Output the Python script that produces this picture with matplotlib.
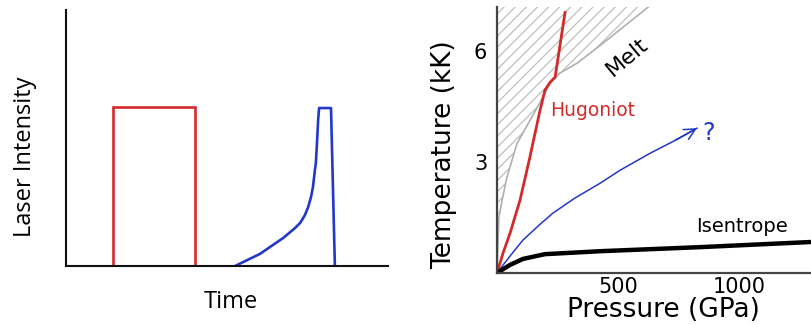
import numpy as np
import matplotlib
matplotlib.use("Agg")
import matplotlib.pyplot as plt

plt.rcParams.update({'font.family': 'DejaVu Sans'})
plt.rcParams['hatch.linewidth'] = 0.8

# left panel: laser pulse shapes (arbitrary units)
square_t = [1.46, 1.46, 4.01, 4.01]
square_i = [0.0, 6.2, 6.2, 0.0]
ramp_t = [5.25, 6.02, 6.74, 7.11, 7.27, 7.42, 7.52, 7.61, 7.67, 7.73, 7.76,
          7.80, 7.83, 7.86, 8.23, 8.35]
ramp_i = [0.0, 0.47, 1.09, 1.48, 1.68, 1.99, 2.30, 2.70, 3.09, 3.75, 4.02,
          4.92, 5.70, 6.17, 6.17, 0.0]

# right panel: pressure (GPa) vs temperature (kK)
hug_P = [0, 25, 54, 95, 136, 157, 178, 198, 219, 240, 281]
hug_T = [0, 0.54, 1.08, 1.97, 3.14, 3.78, 4.41, 4.95, 5.16, 5.30, 7.05]
melt_P = [0, 8, 21, 41, 83, 190, 219, 260, 331, 438, 625]
melt_T = [0, 1.51, 1.97, 2.59, 3.51, 4.76, 5.14, 5.41, 5.68, 6.22, 7.2]
ramp_P = [0, 54, 107, 178, 231, 322, 426, 508, 632, 736, 826]
ramp_T = [0, 0.46, 0.89, 1.32, 1.62, 2.03, 2.43, 2.78, 3.24, 3.59, 3.92]
isen_P = [0, 54, 107, 198, 426, 839, 1300]
isen_T = [0, 0.22, 0.38, 0.51, 0.59, 0.70, 0.84]

red = '#d32a2a'
blue = '#2238c8'

fig = plt.figure(figsize=(8.11, 3.25), dpi=100)

# ---- left panel
ax1 = fig.add_axes([66/811, 1-266/325, 322/811, 256/325])
ax1.plot(square_t, square_i, color=red, lw=1.9, solid_joinstyle='miter')
ax1.plot(ramp_t, ramp_i, color=blue, lw=1.9)
ax1.set_xlim(0, 10)
ax1.set_ylim(0, 10)
ax1.set_xticks([])
ax1.set_yticks([])
for s in ['top', 'right']:
    ax1.spines[s].set_visible(False)
for s in ['left', 'bottom']:
    ax1.spines[s].set_linewidth(1.5)
    ax1.spines[s].set_color('#111111')
ax1.set_xlabel('Time', fontsize=17, family='Open Sans')
ax1.xaxis.set_label_coords((231-66)/322, (266-302)/256)
ax1.xaxis.label.set_va('center')
ax1.set_ylabel('Laser Intensity', fontsize=17, family='Open Sans')
ax1.yaxis.set_label_coords((25-66)/322, (266-157)/256)
ax1.yaxis.label.set_va('center')

# ---- right panel
ax2 = fig.add_axes([497/811, 1-273/325, 314/811, 266/325])
ax2.fill_betweenx(melt_T, 0, melt_P, facecolor='none', edgecolor='#b8b8b8',
                  hatch='///', linewidth=0)
ax2.plot(melt_P, melt_T, color='#b0b0b0', lw=1.2)
ax2.plot(hug_P, hug_T, color=red, lw=2.0)
ax2.plot(ramp_P, ramp_T, color=blue, lw=1.1)
ax2.annotate('', xy=(ramp_P[-1], ramp_T[-1]), xytext=(ramp_P[-2], ramp_T[-2]),
             arrowprops=dict(arrowstyle='->', color=blue, lw=1.1,
                             mutation_scale=20, shrinkA=0, shrinkB=0))
ax2.plot(isen_P, isen_T, color='black', lw=3.2, solid_capstyle='butt')

ax2.text(872, 3.78, '?', color=blue, fontsize=17, ha='center', va='center')
ax2.text(393, 4.4, 'Hugoniot', color=red, fontsize=13.5, ha='center', va='center')
ax2.text(540, 5.85, 'Melt', color='black', fontsize=16, ha='center',
         va='center', rotation=40)
ax2.text(1012, 1.25, 'Isentrope', color='black', fontsize=14,
         ha='center', va='center')

ax2.set_xlim(0, 1297)
ax2.set_ylim(0, 7.2)
ax2.set_xticks([500, 1000])
ax2.set_xticklabels(['500', '1000'])
ax2.set_yticks([3, 6])
ax2.set_yticklabels(['3', '6'])
ax2.tick_params(axis='both', length=0, labelsize=15)
ax2.tick_params(axis='x', pad=3)
ax2.tick_params(axis='y', pad=7)
for s in ['top', 'right']:
    ax2.spines[s].set_visible(False)
for s in ['left', 'bottom']:
    ax2.spines[s].set_linewidth(1.6)
    ax2.spines[s].set_color('#444444')
ax2.set_xlabel('Pressure (GPa)', fontsize=19)
ax2.xaxis.set_label_coords((663-497)/314, (273-310)/266)
ax2.xaxis.label.set_va('center')
ax2.set_ylabel('Temperature (kK)', fontsize=19)
ax2.yaxis.set_label_coords((444-497)/314, (273-155)/266)
ax2.yaxis.label.set_va('center')

fig.savefig('out.png', dpi=100)
